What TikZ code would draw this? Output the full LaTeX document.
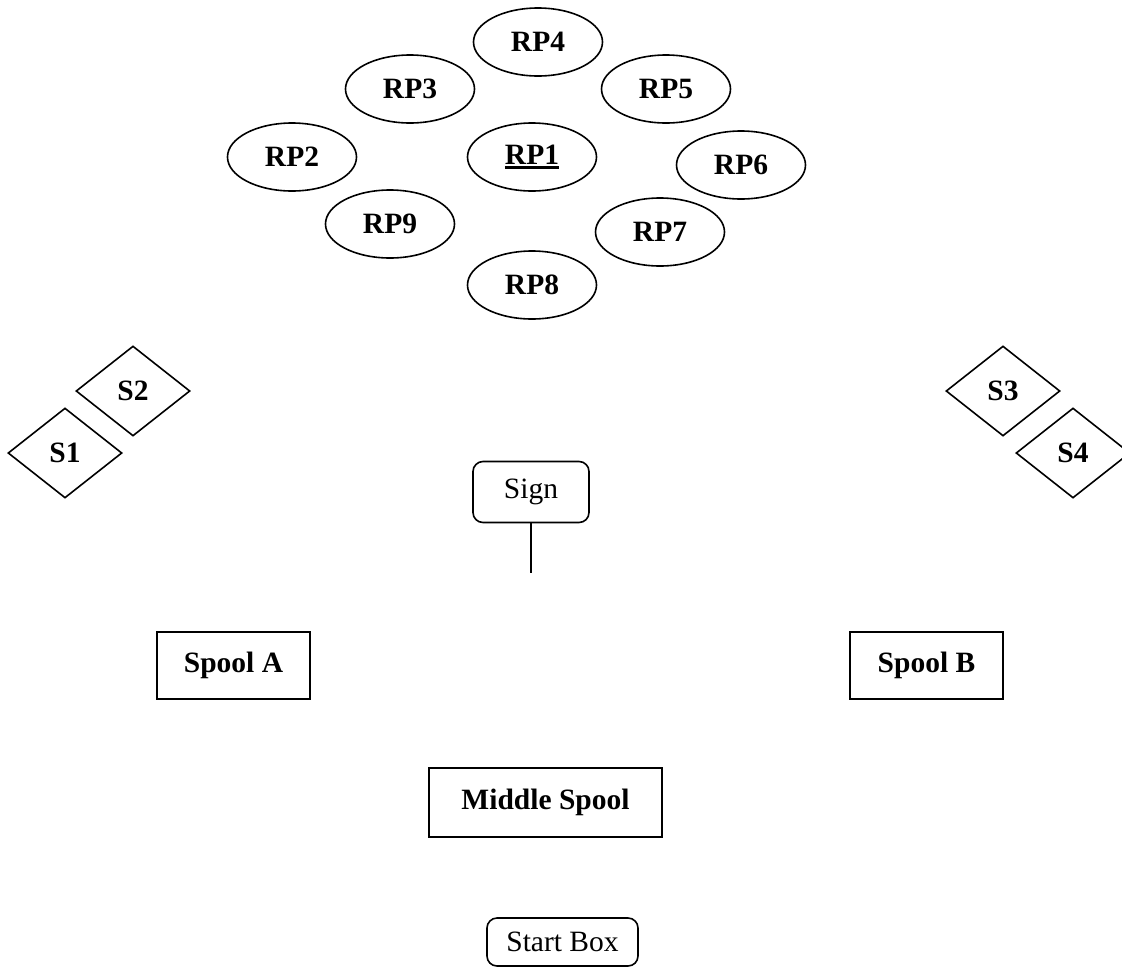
\documentclass[tikz,border=0pt]{standalone}
\usepackage{fontspec}
\setmainfont{Liberation Serif}
\usetikzlibrary{shapes.geometric}
\newcommand{\thickul}[1]{\setbox0=\hbox{#1}\vtop{\hbox{\copy0}\kern1.5pt\hrule height 3pt width \wd0}}
\begin{document}
\begin{tikzpicture}[x=1pt,y=-1pt,
  every node/.style={font=\fontsize{29.5pt}{34pt}\selectfont, line width=1.6pt, inner sep=0pt},
  rp/.style={draw, ellipse, minimum width=129pt, minimum height=68pt, font=\fontsize{29.5pt}{34pt}\selectfont\bfseries},
  sdia/.style={draw, diamond, minimum width=114pt, minimum height=90pt, font=\fontsize{29.5pt}{34pt}\selectfont\bfseries},
  spool/.style={draw, rectangle, minimum height=67pt, font=\fontsize{29.5pt}{34pt}\selectfont\bfseries},
  rbox/.style={draw, rectangle, rounded corners=10pt}
]
\useasboundingbox (0,0) rectangle (1122,975);
\clip (0,0) rectangle (1122,975);
% reference points
\node[rp] (rp4) at (538,42) {RP4};
\node[rp] (rp3) at (410,89) {RP3};
\node[rp] (rp5) at (666,89) {RP5};
\node[rp] (rp2) at (292,157) {RP2};
\node[rp] (rp1) at (532,157) {\thickul{RP1}};
\node[rp] (rp6) at (741,165) {RP6};
\node[rp] (rp9) at (390,224) {RP9};
\node[rp] (rp7) at (660,232) {RP7};
\node[rp] (rp8) at (532,285) {RP8};
% diamonds
\node[sdia] (s2) at (133,391) {S2};
\node[sdia] (s1) at (65,453) {S1};
\node[sdia] (s3) at (1003,391) {S3};
\node[sdia] (s4) at (1073,453) {S4};
% sign
\node[rbox, minimum width=116pt, minimum height=61pt] (sign) at (531,492) {Sign};
\coordinate (signfoot) at (531,573);
\draw[line width=1.6pt] (sign.south) -- (signfoot);
% spools
\node[spool, minimum width=153pt] (spoolA) at (233.5,665.5) {Spool A};
\node[spool, minimum width=153pt] (spoolB) at (926.5,665.5) {Spool B};
\node[spool, minimum width=233pt, minimum height=69pt] (middle) at (545.5,802.5) {Middle Spool};
% start box
\node[rbox, minimum width=151pt, minimum height=48pt] (start) at (562.5,942) {Start Box};
\end{tikzpicture}
\end{document}
